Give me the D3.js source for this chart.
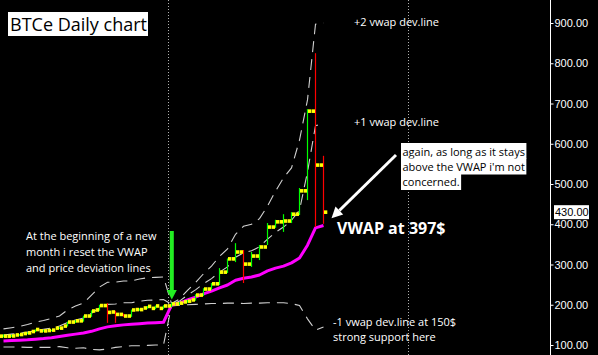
<!DOCTYPE html>
<html><head><meta charset="utf-8">
<script src="https://cdn.jsdelivr.net/npm/d3@7/dist/d3.min.js"></script>
<style>html,body{margin:0;padding:0;background:#000;overflow:hidden}</style>
</head><body>
<svg id="c" width="598" height="355"></svg>
<script>
// ---- data ----
const dates = ["2013-10-11","2013-10-12","2013-10-13","2013-10-14","2013-10-15","2013-10-16","2013-10-17",
"2013-10-18","2013-10-19","2013-10-20","2013-10-21","2013-10-22","2013-10-23","2013-10-24","2013-10-25",
"2013-10-26","2013-10-27","2013-10-28","2013-10-29","2013-10-30","2013-10-31",
"2013-11-01","2013-11-02","2013-11-03","2013-11-04","2013-11-05","2013-11-06","2013-11-07","2013-11-08",
"2013-11-09","2013-11-10","2013-11-11","2013-11-12","2013-11-13","2013-11-14","2013-11-15","2013-11-16",
"2013-11-17","2013-11-18","2013-11-19","2013-11-20"];
const open  = [122,122,125,128.5,133.5,135,136,142,147,157,160,172,187,198,182,176,172,188,192,191,191,
               197,202,207,212,224,239,252,281,314,331,301,321,343.5,393,406,408,425,483,681,547];
const high  = [126,125,127,131,139,137,138,144,158,161,173,186,200,204,185,178,188,191,197,198,199,
               205,207,212,226,241,254,291,315,353,336,331,348.5,403,411,425,430,490,686,825,570];
const low   = [119,120,123,127,132,133,134,140,146,155,158,170,185,155,155,170,170,185,190,189,189,
               194,200,205,210,222,237,249,279,306,254,294,311,348.5,391,381,403,423,460,393,401];
const close = [122,122.5,126,130,138.5,135,137,142,157,160,172,184.5,198,181,176,172,187,188,196,197,197,
               202,204,209,224,239,252,281,314,331,301,321,343.5,393,406,408,425,483,681,547,430];
const vwap  = [110,111,112,113,114.5,116,118,121,124,127,130,134,140,145,148,150,151.5,153,154.5,155.5,156.5,
               199,204,212,219,227,234,242,249,261,266,269,274,284,291,296,304,316,348,391,397];
const dev2Up = [140,143,146,151,157,161,166,172,187,197,204,224,244,256,256,259,259,264,267,268,269,
                203,214,236,255,277,296,320,339,375,395,400,414,445,482,515,540,609,709,897,900];
const dev1Up = [125,127,129,132,136,139,142,147,156,162,167,179,192,201,202,205,205,209,211,212,213,
                201,209,224,237,252,265,281,294,318,329,334,344,363,380,393,410,435,530,645,649];
const dev1Dn = [95,95,95,94,94,94,94,96,93,92,93,89,88,90,94,96,98,98,99,100,100,
                197,199,200,201,202,203,203,204,204,203,204,204,205,205,205,203,198,165,137,145];
const monthStarts = ["2013-11-01","2013-12-01"];
const yTicks = [100,200,300,400,500,600,700,800,900];
const title = "BTCe Daily chart";
const noteLeft = ["At the beginning of a new","month i reset the VWAP","and price deviation lines"];
const noteRight = ["again, as long as it stays","above the VWAP i'm not","concerned."];
const label2 = "+2 vwap dev.line", label1 = "+1 vwap dev.line";
const labelDn = ["-1 vwap dev.line at 150$","strong support here"];
const vwapLabel = "VWAP at 397$";

// ---- setup ----
const W = 598, H = 355, axisX = 550.5;
const svg = d3.select("#c");
svg.append("rect").attr("width", W).attr("height", H).attr("fill", "#000");
const parse = d3.utcParse("%Y-%m-%d");
const x = d3.scaleUtc().domain([parse("2013-10-11"), parse("2013-11-20")]).range([-1, 319]);
const y = d3.scaleLinear().domain([100, 900]).range([345, 23]);
const cx = d => x(d) + 4.5;

svg.append("clipPath").attr("id","clip").append("rect").attr("x",0).attr("y",0).attr("width",axisX).attr("height",H);
const g = svg.append("g").attr("clip-path","url(#clip)");

const rows = dates.map((d,i)=>({d:parse(d),o:open[i],h:high[i],l:low[i],c:close[i],
  v:vwap[i],u2:dev2Up[i],u1:dev1Up[i],d1:dev1Dn[i]}));

// separators
g.selectAll("line.sep").data(monthStarts.map(parse)).join("line")
  .attr("x1", d=>Math.round(x(d))+1.5).attr("x2", d=>Math.round(x(d))+1.5)
  .attr("y1",0).attr("y2",H).attr("stroke","#b0b0b0").attr("stroke-width",1).attr("stroke-dasharray","1,2");

// deviation bands
const band = key => d3.line().x(d=>cx(d.d)).y(d=>y(d[key]));
["u2","u1","d1"].forEach(k=>{
  g.append("path").datum(rows).attr("d", band(k)).attr("fill","none")
   .attr("stroke","#d0d0d0").attr("stroke-width",1.1).attr("stroke-dasharray","11,7");
});
// vwap
g.append("path").datum(rows).attr("d", band("v")).attr("fill","none")
  .attr("stroke","#ff00ff").attr("stroke-width",3).attr("stroke-linejoin","round");

// bars
g.selectAll("line.bar").data(rows).join("line")
  .attr("x1", d=>cx(d.d)).attr("x2", d=>cx(d.d))
  .attr("y1", d=>y(d.h)).attr("y2", d=>y(d.l))
  .attr("stroke", d=>d.c>=d.o?"#00ff00":"#ff0000").attr("stroke-width",1.2);
g.selectAll("rect.op").data(rows).join("rect")
  .attr("x", d=>cx(d.d)-3.8).attr("y", d=>y(d.o)-1.8).attr("width",3.3).attr("height",3.6).attr("fill","#ffff00");
g.selectAll("rect.cl").data(rows).join("rect")
  .attr("x", d=>cx(d.d)+0.5).attr("y", d=>y(d.c)-1.8).attr("width",3.3).attr("height",3.6).attr("fill","#ffff00");

// axis
const ax = svg.append("g").attr("transform",`translate(${axisX},0)`)
  .call(d3.axisRight(y).tickValues(yTicks).tickFormat(d3.format(".2f")).tickSize(3).tickSizeOuter(0).tickPadding(1));
ax.select(".domain").remove();
ax.selectAll("line").attr("stroke","#fff");
ax.selectAll("text").attr("fill","#fff").style("font-family","'Liberation Sans',Arial,sans-serif").style("font-size","11px");
svg.append("line").attr("x1",axisX).attr("x2",axisX).attr("y1",0).attr("y2",H).attr("stroke","#fff");

// last price label
const last = rows[rows.length-1];
svg.append("rect").attr("x",554).attr("y",y(last.c)-7).attr("width",35).attr("height",14).attr("fill","#fff");
svg.append("text").attr("x",555).attr("y",y(last.c)).attr("dy","0.35em").text(d3.format(".2f")(last.c))
  .attr("fill","#000").style("font-family","'Liberation Sans',Arial,sans-serif").style("font-size","11px");

// title
svg.append("rect").attr("x",8).attr("y",12).attr("width",140).attr("height",24).attr("fill","#fff");
svg.append("text").attr("x",10).attr("y",30.5).text(title).attr("fill","#000")
  .style("font-family","'Open Sans',sans-serif").style("font-size","18px");

const txt = (s,xx,yy,opt={}) => svg.append("text").attr("x",xx).attr("y",yy).text(s)
  .attr("fill",opt.fill||"#fff").style("font-family","'Open Sans',sans-serif")
  .style("font-size",(opt.size||11)+"px").style("font-weight",opt.bold?"bold":"normal");

noteLeft.forEach((s,i)=>txt(s,26,240+i*16));
txt(label2,354,25.5);
txt(label1,354,125.5);
labelDn.forEach((s,i)=>txt(s,333,325.5+i*15));

// right note box with per-line white background
noteRight.forEach((s,i)=>{
  const t = txt(s,402.5,155.5+i*15,{fill:"#000"});
  const w = t.node().getComputedTextLength();
  svg.insert("rect", () => t.node()).attr("x",401).attr("y",143+i*15.5).attr("width",w+3).attr("height",16).attr("fill","#fff");
});

// vwap label
txt(vwapLabel,337,233.5,{size:16,bold:true});

// white arrow pointing at last close
const tip = [cx(last.d)+8, y(last.c)+6], tail = [396,155];
const dx = tail[0]-tip[0], dy = tail[1]-tip[1], len = Math.hypot(dx,dy), ux = dx/len, uy = dy/len;
const hl = 11, hw = 5.5, bc = [tip[0]+ux*hl, tip[1]+uy*hl];
svg.append("line").attr("x1",bc[0]).attr("y1",bc[1]).attr("x2",tail[0]).attr("y2",tail[1]).attr("stroke","#fff").attr("stroke-width",3);
svg.append("polygon").attr("points",[tip,[bc[0]-uy*hw,bc[1]+ux*hw],[bc[0]+uy*hw,bc[1]-ux*hw]].map(p=>p.join(",")).join(" ")).attr("fill","#fff");

// green arrow at month reset
const ga = Math.round(x(parse(monthStarts[0])))+4.8;
svg.append("rect").attr("x",ga-2).attr("y",231).attr("width",4).attr("height",60).attr("fill","#22ee22");
svg.append("polygon").attr("points",`${ga-5},290 ${ga+5},290 ${ga},299.5`).attr("fill","#22ee22");
</script>
</body></html>
